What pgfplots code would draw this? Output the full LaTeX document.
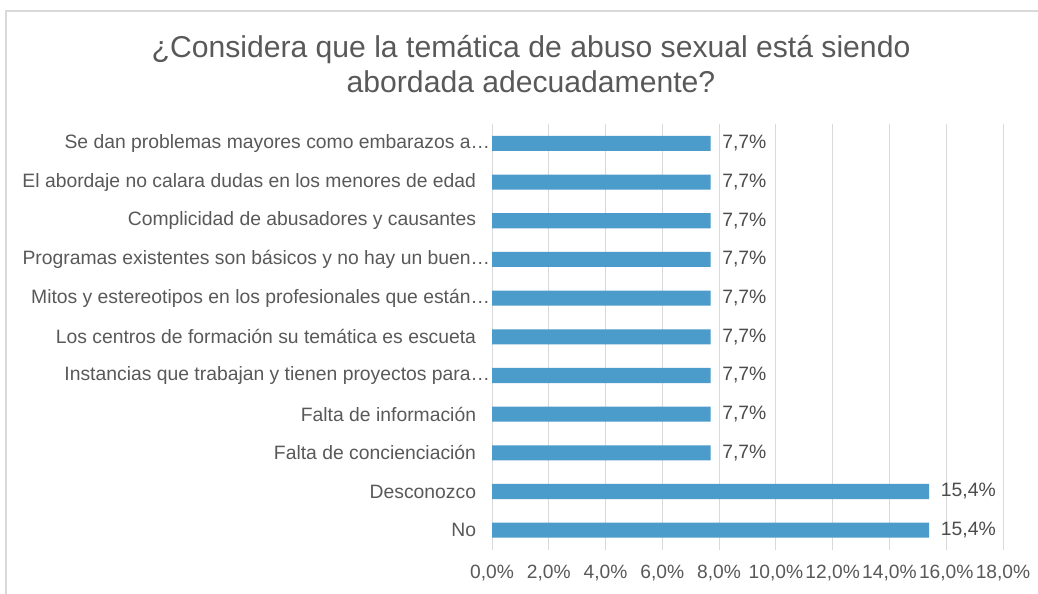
\documentclass[border=0pt]{standalone}
\usepackage{pgfplots}
\pgfplotsset{compat=1.18}
\usepackage{fontspec}
\setmainfont{Liberation Sans}
\definecolor{txt}{HTML}{595959}
\definecolor{gridc}{HTML}{D9D9D9}
\definecolor{barc}{HTML}{4B9BCB}
\begin{document}
\begin{tikzpicture}
\useasboundingbox (0,0) rectangle (778.5pt,444.75pt);
\fill[white] (0,0) rectangle (778.5pt,444.75pt);
\draw[gridc, line width=1.1pt] (4.5pt,-3pt) -- (4.5pt,436.5pt) -- (785pt,436.5pt);
\node[anchor=base, text=txt, font=\fontsize{22.6}{27}\selectfont, inner sep=0pt] at (398.25pt,401.25pt) {¿Considera que la temática de abuso sexual está siendo};
\node[anchor=base, text=txt, font=\fontsize{22.6}{27}\selectfont, inner sep=0pt] at (398.25pt,375pt) {abordada adecuadamente?};
\begin{axis}[
  at={(369pt,32.6pt)}, anchor=south west,
  scale only axis, width=383.25pt, height=319.1pt,
  xbar, bar width=0.39,
  xmin=0, xmax=18, xtick={0,2,...,18},
  ymin=-0.5, ymax=10.5, ytick={0,1,...,10},
  yticklabels={No,Desconozco,Falta de concienciación,Falta de información,Instancias que trabajan y tienen proyectos para…\kern-10.5pt,Los centros de formación su temática es escueta,Mitos y estereotipos en los profesionales que están…\kern-10.5pt,Programas existentes son básicos y no hay un buen…\kern-10.5pt,Complicidad de abusadores y causantes,El abordaje no calara dudas en los menores de edad,Se dan problemas mayores como embarazos a…\kern-10.5pt},
  axis line style={draw=none},
  tick style={draw=none},
  xmajorgrids, grid style={gridc, line width=0.75pt},
  /pgf/number format/assume math mode=true,
  xticklabel={\pgfmathprintnumber[fixed,fixed zerofill,precision=1,use comma]{\tick}\%},
  xticklabel style={font=\fontsize{14.4}{17}\selectfont, text=txt, anchor=north, inner sep=0pt, yshift=-11.6pt},
  yticklabel style={font=\fontsize{14.5}{17}\selectfont, text=txt, anchor=east, inner sep=0pt, xshift=-7.5pt},
  point meta=x,
  nodes near coords={\pgfmathprintnumber[fixed,fixed zerofill,precision=1,use comma]{\pgfplotspointmeta}\%},
  nodes near coords align={horizontal},
  every node near coord/.append style={font=\fontsize{14.5}{17}\selectfont, text=txt!85!black, anchor=west, inner sep=0pt, xshift=8.6pt},
  clip=false,
]
\addplot[fill=barc, draw=none] coordinates {
(15.4,0) (15.4,1) (7.7,2) (7.7,3) (7.7,4) (7.7,5) (7.7,6) (7.7,7) (7.7,8) (7.7,9) (7.7,10)
};
\end{axis}
\end{tikzpicture}
\end{document}
